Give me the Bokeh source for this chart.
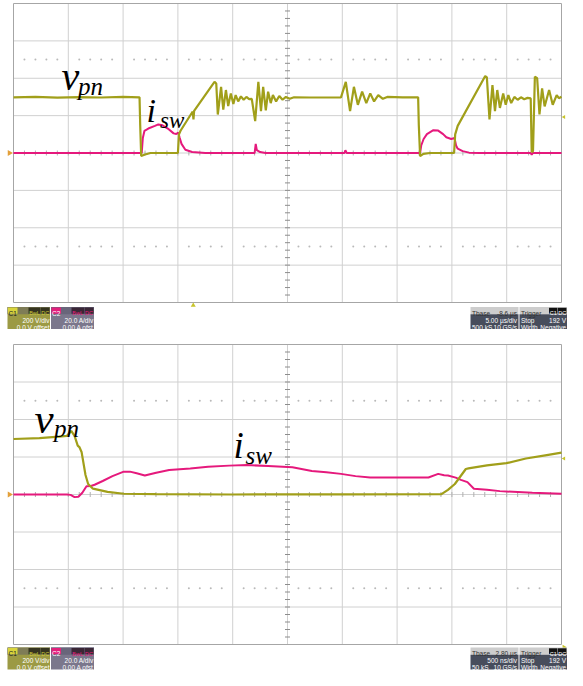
import numpy as np
from bokeh.plotting import figure
from bokeh.layouts import column
from bokeh.models import Range1d
from bokeh.core.properties import value
from bokeh.embed import file_html
from bokeh.resources import INLINE

# ---------------- scope settings ----------------
V_PER_DIV = 200.0   # vpn channel
A_PER_DIV = 20.0    # isw channel
N_XDIV, N_YDIV = 10, 8
top_us_per_div = 5.0
bot_us_per_div = 0.5
trigger_level_v = 192.0

# ---------------- top capture (5 us/div) ----------------
top_vpn_t = [0.0, 2.0, 4.0, 6.0, 8.0, 10.0, 11.5, 11.56, 11.65, 12.0, 12.5, 15.0, 15.1, 15.24,
             16.35, 16.42, 16.48, 18.34, 18.5, 18.64, 18.94, 19.14, 19.38, 19.59, 19.83, 20.06,
             20.27, 20.50, 20.75, 21.0, 21.25, 21.5, 21.74, 22.05, 22.34, 22.58, 22.78, 23.02,
             23.23, 23.47, 23.67, 23.96, 24.25, 24.55, 24.85, 25.2, 25.6, 27.0, 29.88, 30.32,
             30.71, 31.06, 31.42, 31.81, 32.19, 32.55, 32.90, 33.28, 33.7, 34.1, 35.5, 36.92,
             36.98, 37.1, 37.4, 38.0, 40.2, 40.3, 40.53, 43.04, 43.19, 43.43, 43.70, 43.93,
             44.14, 44.38, 44.68, 44.91, 45.15, 45.41, 45.7, 46.0, 46.3, 46.6, 46.9, 47.19,
             47.28, 47.4, 47.57, 47.78, 47.99, 48.23, 48.46, 48.87, 49.20, 49.56, 49.76, 50.0]
top_vpn_v = [298, 300, 296, 299, 297, 300, 298, 150, -16, -8, 0, 0, 100, 119,
             222, 180, 225, 381, 372, 206, 354, 232, 337, 251, 319, 262,
             310, 276, 303, 285, 300, 288, 290, 171, 381, 224, 354, 228,
             328, 267, 310, 276, 305, 285, 300, 290, 298, 297, 298, 381,
             224, 354, 258, 328, 267, 319, 276, 310, 290, 300, 298, 298,
             150, -17, -5, 0, 0, 100, 145, 412, 405, 180, 363, 224,
             337, 241, 319, 258, 310, 267, 300, 285, 298, 288, 295, 292,
             5, 10, 408, 400, 206, 346, 249, 337, 258, 310, 293, 301]
top_isw_t = [0.0, 11.7, 11.8, 11.95, 12.3, 12.9, 13.22, 13.6, 14.08, 14.61, 14.85, 15.03, 15.15,
             15.33, 15.68, 16.3, 17.5, 22.0, 22.1, 22.2, 22.5, 23.0, 30.2, 30.28, 30.4, 37.1,
             37.2, 37.42, 37.72, 38.31, 38.75, 39.2, 39.49, 39.94, 40.24, 40.38, 40.53, 40.98,
             41.57, 42.5, 47.2, 47.28, 47.38, 50.0]
top_isw_a = [0, 0, 8, 11.9, 13.1, 14.5, 15.3, 14.8, 13.1, 10.5, 10.2, 11.0, 8.4,
             4.9, 1.7, 0.5, 0, 0, 4.9, 1.5, 0.5, 0, 0, 1.5, 0, 0,
             4.0, 7.5, 10.1, 12.2, 12.0, 10.1, 8.4, 7.5, 8.0, 4.0, 2.3, 1.0,
             0.2, 0, 0, -1.0, 0, 0]

# ---------------- bottom capture (500 ns/div) ----------------
bot_vpn_t = [0.0, 0.237, 0.414, 0.488, 0.527, 0.557, 0.586, 0.601, 0.621, 0.657, 0.681, 0.725,
             0.858, 1.006, 1.3, 2.0, 3.0, 3.905, 3.964, 4.027, 4.127, 4.151, 4.320, 4.497,
             4.675, 4.852, 5.0]
bot_vpn_v = [296, 301, 309, 313, 339, 313, 261, 253, 227, 104, 56, 31,
             14, 4, 2, 0, 1, 2, 25, 56, 136, 139, 155, 167,
             192, 209, 223]
bot_isw_t = [0.0, 0.486, 0.521, 0.557, 0.592, 0.628, 0.666, 0.707, 0.740, 0.814, 0.903, 1.006,
             1.062, 1.124, 1.198, 1.302, 1.420, 1.613, 1.775, 1.968, 2.130, 2.323, 2.545, 2.722,
             2.855, 2.988, 3.121, 3.254, 3.520, 3.786, 3.875, 3.929, 3.964, 4.035, 4.082, 4.142,
             4.201, 4.320, 4.438, 4.734, 5.0]
bot_isw_a = [0, 0, -0.2, -1.4, -1.2, 0.9, 4.4, 4.5, 5.2, 7.2, 9.8, 12.2,
             12.2, 11.3, 10.1, 11.6, 13.1, 13.9, 14.8, 15.4, 15.7, 15.2, 14.5, 12.5,
             11.9, 11.0, 9.8, 9.1, 9.1, 9.1, 11.0, 10.3, 10.1, 9.0, 7.8, 6.6,
             3.1, 2.5, 1.8, 0.9, 0.4]

# ---------------- status bar texts ----------------
ch1_texts = ["C1", "BwL", "DC", "200 V/div", "0.0 V offset"]
ch2_texts = ["C2", "BwL", "DC", "20.0 A/div", "0.00 A ofst"]
top_tbase_texts = ["Tbase", "-8.6 µs", "5.00 µs/div", "500 kS", "10 GS/s"]
bot_tbase_texts = ["Tbase", "2.80 µs", "500 ns/div", "50 kS", "10 GS/s"]
trig_texts = ["Trigger", "C1", "DC", "Stop", "192 V", "Width", "Negative"]

YEL = "#a19f1a"
PINK = "#e5197c"
GRID = "#d0d0d0"
BORDER = "#a6a6a6"
W = 567
GL, GR = 13, 561
FONT = value("Liberation Sans")
SERIF = value("Liberation Serif")


def panel(H, GT, GB, S, us_div, vpn_t, vpn_v, isw_t, isw_a, tb_texts, labels, trig_mark):
    span = N_XDIV * us_div
    xpp = span / (GR - GL)
    x0 = -GL * xpp
    x1 = span + (W - GR) * xpp
    vpp = N_YDIV * V_PER_DIV / (GB - GT)
    ytop = N_YDIV / 2 * V_PER_DIV + GT * vpp
    ybot = ytop - H * vpp
    p = figure(width=W, height=H, x_range=Range1d(x0, x1), y_range=Range1d(ybot, ytop),
               x_axis_type=None, y_axis_type=None, toolbar_location=None,
               output_backend="svg", min_border=0, outline_line_color=None,
               background_fill_color="white", border_fill_color="white", title=None)
    k = A_PER_DIV / V_PER_DIV
    p.extra_y_ranges = {"amp": Range1d(ybot * k, ytop * k)}

    def X(px):
        return x0 + px * xpp

    def Y(py):
        return ytop - py * vpp

    vmax = N_YDIV / 2 * V_PER_DIV
    # grid
    gx = [i * us_div for i in range(1, N_XDIV)]
    p.segment(x0=gx, y0=[-vmax] * len(gx), x1=gx, y1=[vmax] * len(gx), line_color=GRID, line_width=1)
    gy = [j * V_PER_DIV for j in range(-3, 4)]
    p.segment(x0=[0] * len(gy), y0=gy, x1=[span] * len(gy), y1=gy, line_color=GRID, line_width=1)
    # dotted rows at +/- 2.5 div
    dot_t = [(d + f) * us_div for d in range(N_XDIV) for f in (0.2, 0.4, 0.6, 0.8)]
    p.scatter(dot_t * 2, [2.5 * V_PER_DIV] * len(dot_t) + [-2.5 * V_PER_DIV] * len(dot_t),
              size=2, color="#b9b9b9", line_color=None)
    # center axes with minor ticks
    cx = span / 2
    tv = [-vmax + j * V_PER_DIV / 5 for j in range(1, 5 * N_YDIV)]
    p.segment(x0=[cx - 2.5 * xpp] * len(tv), y0=tv, x1=[cx + 2.5 * xpp] * len(tv), y1=tv,
              line_color="#8c8c8c", line_width=1)
    tt = [j * us_div / 5 for j in range(1, 5 * N_XDIV)]
    p.segment(x0=tt, y0=[-2.5 * vpp] * len(tt), x1=tt, y1=[2.5 * vpp] * len(tt),
              line_color="#b0b0b0", line_width=1)
    # border
    p.quad(left=0, right=span, bottom=-vmax, top=vmax, fill_color=None, line_color=BORDER, line_width=1)

    # traces
    p.line(isw_t, isw_a, color=PINK, line_width=2, y_range_name="amp")
    p.line(vpn_t, vpn_v, color=YEL, line_width=2.2)

    # markers: ground, trigger level, trigger time
    p.scatter([X(GL - 4)], [0], marker="triangle", angle=-np.pi / 2, size=6,
              color="#e3a03a", line_color=None)
    p.scatter([X(GR + 2.5)], [trigger_level_v], marker="triangle", angle=np.pi / 2, size=4,
              color="#c8c42a", line_color=None)
    tx = trig_mark[0] if trig_mark[0] is not None else X(GR + 2.5)
    p.scatter([tx], [Y(GB + trig_mark[1])], marker="triangle", angle=trig_mark[2], size=5,
              color="#c8c42a", line_color=None)

    # big labels
    for (px, py, s, size) in labels:
        p.text(x=[X(px)], y=[Y(py)], text=[s], text_color="black", text_font=SERIF,
               text_font_style="italic", text_font_size=size, text_align="left",
               text_baseline="alphabetic")

    # ---- status bar ----
    def box(l, t, r, b, color):
        p.quad(left=X(l), right=X(r), top=Y(t), bottom=Y(b), fill_color=color, line_color=None)

    def txt(px, py, s, color, align="left", size="6.5px"):
        p.text(x=[X(px)], y=[Y(py)], text=[s], text_color=color, text_align=align,
               text_baseline="alphabetic", text_font=FONT, text_font_size=size)

    r1, r2, r3 = S + 6.0, S + 13.4, S + 20.4
    # channel 1
    box(7, S, 49.5, S + 22, "#9c9a44")
    box(7, S, 49.5, S + 7.3, "#7e7c56")
    box(7.5, S + 0.5, 17, S + 6.8, "#d8d43c")
    txt(12.2, r1, ch1_texts[0], "#222222", "center")
    box(28, S + 0.5, 40, S + 6.8, "#35341f")
    txt(34, r1, ch1_texts[1], "#cfcb3a", "center", "5.5px")
    box(40.5, S + 0.5, 49, S + 6.8, "#35341f")
    txt(44.7, r1, ch1_texts[2], "#cfcb3a", "center", "5.5px")
    txt(49, r2, ch1_texts[3], "white", "right")
    txt(49, r3, ch1_texts[4], "white", "right")
    # channel 2
    box(50.5, S, 93.5, S + 22, "#7b778c")
    box(50.5, S, 93.5, S + 7.3, "#69657a")
    box(51, S + 0.5, 60.5, S + 6.8, "#e2207c")
    txt(55.7, r1, ch2_texts[0], "white", "center")
    box(71, S + 0.5, 83.5, S + 6.8, "#3a2636")
    txt(77.2, r1, ch2_texts[1], "#e2207c", "center", "5.5px")
    box(84, S + 0.5, 93, S + 6.8, "#3a2636")
    txt(88.5, r1, ch2_texts[2], "#e2207c", "center", "5.5px")
    txt(93, r2, ch2_texts[3], "white", "right")
    txt(93, r3, ch2_texts[4], "white", "right")
    # timebase
    box(470, S, 518, S + 7.3, "#cdcdcd")
    box(470, S + 7.3, 518, S + 22, "#474d5c")
    txt(471.5, r1, tb_texts[0], "#333333")
    txt(516.5, r1, tb_texts[1], "#333333", "right")
    txt(516.5, r2, tb_texts[2], "white", "right")
    txt(471.5, r3, tb_texts[3], "white")
    txt(516.5, r3, tb_texts[4], "white", "right")
    # trigger
    box(519, S, 566.5, S + 7.3, "#cdcdcd")
    box(519, S + 7.3, 566.5, S + 22, "#474d5c")
    txt(520.5, r1, trig_texts[0], "#333333")
    box(548.5, S + 0.8, 557, S + 6.6, "#111111")
    txt(552.7, r1, trig_texts[1], "white", "center", "5.5px")
    box(557.5, S + 0.8, 566, S + 6.6, "#111111")
    txt(561.7, r1, trig_texts[2], "white", "center", "5.5px")
    txt(520.5, r2, trig_texts[3], "white")
    txt(565.5, r2, trig_texts[4], "white", "right")
    txt(520.5, r3, trig_texts[5], "white")
    txt(565.5, r3, trig_texts[6], "white", "right")
    return p


top_labels = [(61, 76, "v", "40px"), (77.5, 86, "pn", "25px"),
              (146, 109.5, "i", "34px"), (159.5, 120, "sw", "23px")]
bot_labels = [(34, 78, "v", "43px"), (53.5, 88, "pn", "25px"),
              (233, 104.5, "i", "37px"), (245, 114.5, "sw", "25px")]

p1 = panel(340, 3, 302, 306.5, top_us_per_div, top_vpn_t, top_vpn_v, top_isw_t, top_isw_a,
           top_tbase_texts, top_labels, (16.4, 2.8, 0.0))
p2 = panel(330, 4, 304, 307, bot_us_per_div, bot_vpn_t, bot_vpn_v, bot_isw_t, bot_isw_a,
           bot_tbase_texts, bot_labels, (None, 2.7, -np.pi / 2))

layout = column(p1, p2, spacing=0)
open("out.html", "w").write(file_html(layout, INLINE))
